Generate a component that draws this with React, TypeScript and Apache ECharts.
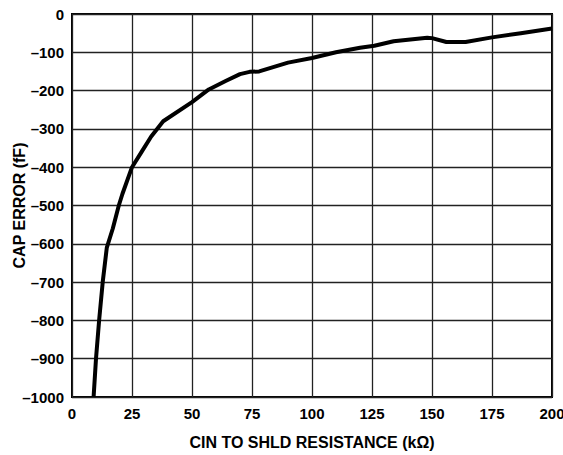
import React, { useEffect, useRef } from "react";
import * as echarts from "echarts";

const resistance = [9, 10, 11.3, 12.8, 14.5, 17, 19.5, 21, 25, 29, 33, 38, 50, 57, 64, 70, 74, 78, 90, 100, 110, 120, 126, 134, 148, 150, 156, 164, 175, 187, 200];
const capError = [-1000, -900, -800, -700, -610, -560, -500, -470, -400, -360, -320, -280, -230, -197, -175, -157, -151, -150, -127, -115, -100, -88, -83, -71, -62, -63, -73, -73, -61, -50, -38];

const xTicks = [0, 25, 50, 75, 100, 125, 150, 175, 200];
const yTicks = [0, -100, -200, -300, -400, -500, -600, -700, -800, -900, -1000];

const FONT = "'Liberation Sans', Arial, Helvetica, sans-serif";

export default function App() {
  const ref = useRef<HTMLDivElement>(null);
  useEffect(() => {
    if (!ref.current) return;
    const chart = echarts.init(ref.current, undefined, { renderer: "svg" });
    const data = resistance.map((x, i) => [x, capError[i]]);
    chart.setOption({
      animation: false,
      backgroundColor: "#fff",
      grid: {
        left: 72,
        right: 11,
        top: 14,
        bottom: 58,
        containLabel: false,
        outerBoundsMode: "none",
        show: true,
        borderColor: "#000",
        borderWidth: 2,
      },
      xAxis: {
        type: "value",
        min: xTicks[0],
        max: xTicks[xTicks.length - 1],
        interval: 25,
        name: "CIN TO SHLD RESISTANCE (kΩ)",
        nameLocation: "middle",
        nameGap: 37,
        nameMoveOverlap: false,
        nameTextStyle: { fontFamily: FONT, fontWeight: "bold", fontSize: 16, color: "#000" },
        axisLine: { show: false },
        axisTick: { show: false },
        axisLabel: {
          fontFamily: FONT,
          fontWeight: "bold",
          fontSize: 15,
          color: "#000",
          margin: 9,
          hideOverlap: false,
        },
        splitLine: { show: true, lineStyle: { color: "#222", width: 1.3 } },
      },
      yAxis: {
        type: "value",
        min: yTicks[yTicks.length - 1],
        max: yTicks[0],
        interval: 100,
        name: "CAP ERROR (fF)",
        nameLocation: "middle",
        nameGap: 45,
        nameMoveOverlap: false,
        nameTextStyle: { fontFamily: FONT, fontWeight: "bold", fontSize: 16, color: "#000" },
        axisLine: { show: false },
        axisTick: { show: false },
        axisLabel: {
          fontFamily: FONT,
          fontWeight: "bold",
          fontSize: 15,
          color: "#000",
          margin: 8,
          hideOverlap: false,
          formatter: (v: number) => String(v).replace("-", "\u2013"),
        },
        splitLine: { show: true, lineStyle: { color: "#222", width: 1.3 } },
      },
      series: [
        {
          type: "line",
          data,
          showSymbol: false,
          symbol: "none",
          lineStyle: { color: "#000", width: 4 },
          clip: true,
        },
      ],
    });
    return () => chart.dispose();
  }, []);
  return (
    <div
      ref={ref}
      style={{ position: "fixed", left: 0, top: 0, width: 563, height: 455 }}
    />
  );
}
